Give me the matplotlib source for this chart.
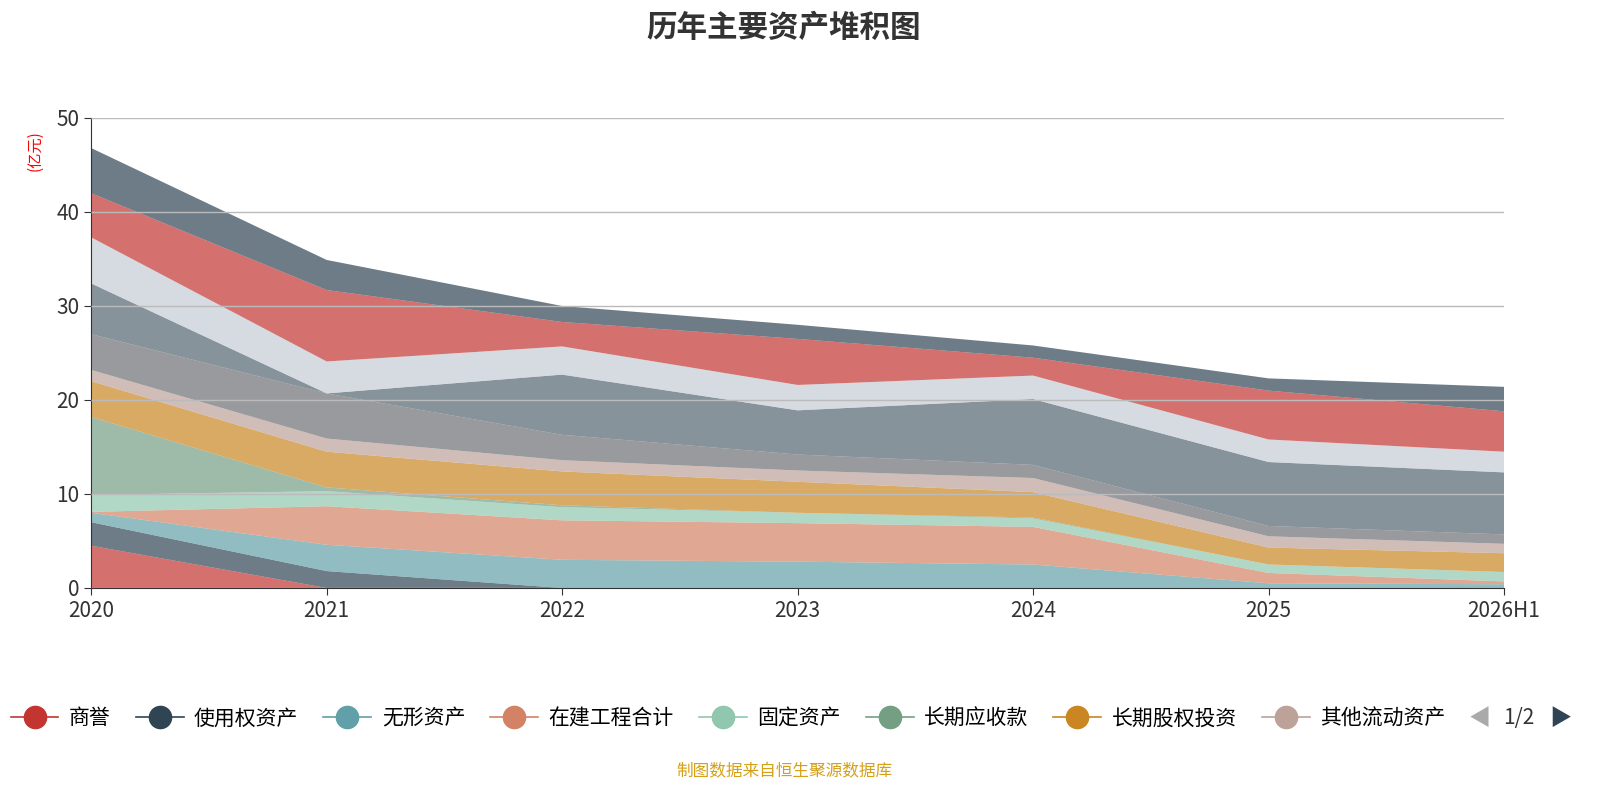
import numpy as np
import matplotlib.pyplot as plt
from matplotlib.lines import Line2D

plt.rcParams['font.family'] = ['Noto Sans CJK SC', 'DejaVu Sans']

years = ['2020', '2021', '2022', '2023', '2024', '2025', '2026H1']
names = ['商誉', '使用权资产', '无形资产', '在建工程合计', '固定资产', '长期应收款',
         '长期股权投资', '其他流动资产', '其他非流动资产', '存货', '交易性金融资产',
         '应收账款', '货币资金']
goodwill = [4.5, 0, 0, 0, 0, 0, 0]
rou = [2.5, 1.8, 0, 0, 0, 0, 0]
intangible = [1.0, 2.8, 3.0, 2.8, 2.5, 0.5, 0.4]
cip = [0.1, 4.1, 4.2, 4.1, 4.0, 1.1, 0.3]
fixed = [1.8, 1.6, 1.4, 1.1, 0.9, 0.9, 1.0]
lt_recv = [8.3, 0.4, 0.2, 0, 0.1, 0, 0]
lt_equity = [3.8, 3.8, 3.6, 3.3, 2.7, 1.8, 2.0]
other_cur = [1.2, 1.4, 1.2, 1.2, 1.5, 1.2, 1.0]
other_noncur = [3.8, 4.8, 2.7, 1.7, 1.4, 1.1, 1.0]
inventory = [5.4, 0, 6.4, 4.7, 7.0, 6.8, 6.6]
trading = [4.9, 3.4, 3.0, 2.7, 2.5, 2.4, 2.2]
receivable = [4.7, 7.6, 2.6, 4.9, 1.9, 5.2, 4.3]
cash = [4.8, 3.2, 1.7, 1.5, 1.3, 1.3, 2.6]
series = [goodwill, rou, intangible, cip, fixed, lt_recv, lt_equity, other_cur,
          other_noncur, inventory, trading, receivable, cash]
colors = ['#c23531', '#2f4554', '#61a0a8', '#d48265', '#91c7ae', '#749f83',
          '#ca8622', '#bda29a', '#6e7074', '#546570', '#c4ccd3', '#c23531', '#2f4554']

fig = plt.figure(figsize=(16, 8), dpi=100)
ax = fig.add_axes([0.057, 0.265, 0.883, 0.5875])
x = np.arange(len(years))
ax.stackplot(x, *series, colors=colors, alpha=0.7, linewidth=0)
ax.set_xlim(0, len(years) - 1)
ax.set_ylim(0, 50)
ax.set_yticks(range(0, 51, 10))
ax.set_xticks(x)
ax.set_xticklabels(years)
ax.tick_params(labelsize=15, colors='#333333', length=5)
ax.grid(axis='y', color='#bbbbbb', linewidth=1)
ax.set_axisbelow(False)
for s in ['top', 'right']:
    ax.spines[s].set_visible(False)
ax.spines['left'].set_color('#333333')
ax.spines['bottom'].set_color('#333333')
ax.text(-0.04, 0.93, '(亿元)', transform=ax.transAxes, rotation=90, color='red',
        fontsize=11, ha='center', va='center')

fig.text(0.49, 0.965, '历年主要资产堆积图', ha='center', va='center', fontsize=22,
         fontweight='bold', color='#333333')

handles = [Line2D([0], [0], color=c, marker='o', markersize=16, linewidth=1.2)
           for c in colors[:8]]
fig.legend(handles, names[:8], loc='center', bbox_to_anchor=(0.455, 0.102), ncol=8,
           frameon=False, fontsize=15, handlelength=2.3, columnspacing=1.2,
           handletextpad=0.5)
fig.text(0.925, 0.102, '◀', color='#aaaaaa', fontsize=16, ha='center', va='center')
fig.text(0.949, 0.102, '1/2', color='#333333', fontsize=15, ha='center', va='center')
fig.text(0.975, 0.102, '▶', color='#2f4554', fontsize=16, ha='center', va='center')
fig.text(0.49, 0.035, '制图数据来自恒生聚源数据库', color='#d4a017', fontsize=12,
         ha='center', va='center')

fig.savefig('out.png')
